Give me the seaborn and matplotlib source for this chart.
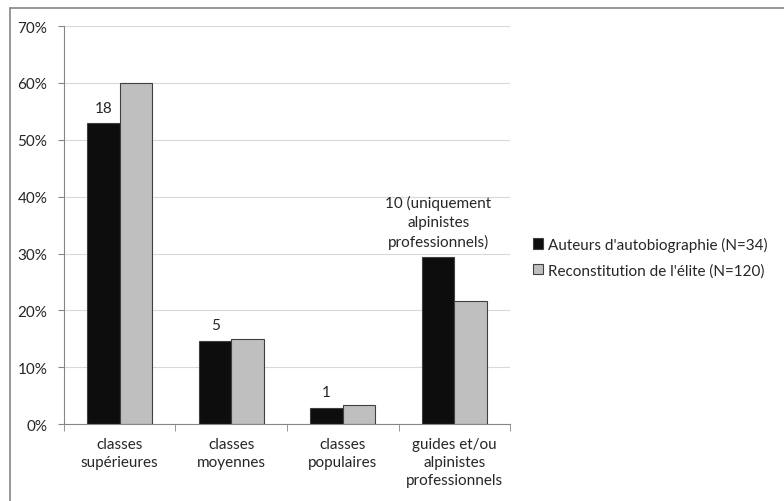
import pandas as pd
import seaborn as sns
import matplotlib.pyplot as plt
from matplotlib.lines import Line2D
from matplotlib.ticker import FuncFormatter, FixedLocator

# data
categories = ["classes\nsupérieures", "classes\nmoyennes", "classes\npopulaires",
              "guides et/ou\nalpinistes\nprofessionnels"]
series = ["Auteurs d'autobiographie (N=34)", "Reconstitution de l'élite (N=120)"]
auteurs = [52.9, 14.7, 2.9, 29.4]
elite = [60.0, 15.0, 3.3, 21.7]
counts = ["18", "5", "1", "10 (uniquement\nalpinistes\nprofessionnels)"]

df = pd.DataFrame({
    "categorie": categories * 2,
    "serie": [series[0]] * 4 + [series[1]] * 4,
    "pct": auteurs + elite,
})

sns.set_style("white")
plt.rcParams['font.family'] = ['Lato', 'DejaVu Sans']

fig = plt.figure(figsize=(7.84, 5.02), dpi=100)
ax = fig.add_axes([0.0816, 0.153, 0.569, 0.793])

sns.barplot(data=df, x="categorie", y="pct", hue="serie",
            palette=["#0d0d0d", "#bfbfbf"], width=0.58,
            edgecolor="#404040", linewidth=0.8, ax=ax)

ax.set_ylim(0, 70)
ax.set_xlim(-0.5, 3.5)
ax.yaxis.set_major_locator(FixedLocator(range(0, 71, 10)))
ax.yaxis.set_major_formatter(FuncFormatter(lambda v, p: f"{int(v)}%"))
ax.grid(axis="y", color="#d9d9d9", linewidth=0.8)
ax.set_axisbelow(True)
for s in ["top", "right"]:
    ax.spines[s].set_visible(False)
ax.spines["left"].set_color("#868686")
ax.spines["bottom"].set_color("#868686")
ax.set_xlabel("")
ax.set_ylabel("")
ax.tick_params(axis="y", length=4, color="#868686", labelsize=11, labelcolor="#262626",
               left=True, pad=8)
ax.tick_params(axis="x", length=0, labelsize=11, labelcolor="#262626", pad=9)
# category separator ticks
ax.set_xticks([-0.5, 0.5, 1.5, 2.5, 3.5], minor=True)
ax.tick_params(axis="x", which="minor", length=5, color="#868686", bottom=True)
for lab in ax.get_xticklabels():
    lab.set_verticalalignment("top")
    lab.set_multialignment("center")
    lab.set_linespacing(1.4)

# count labels above the black bars
for i, (txt, v) in enumerate(zip(counts, auteurs)):
    ax.annotate(txt, (i - 0.145, v), xytext=(0, 6), textcoords="offset points",
                ha="center", va="bottom", multialignment="center",
                fontsize=11, color="#262626", linespacing=1.4)

leg = ax.legend(loc="center left", bbox_to_anchor=(1.02, 0.42), frameon=False,
                fontsize=11, handlelength=0.7, handleheight=0.7, handletextpad=0.3,
                labelspacing=0.75)
for t in leg.get_texts():
    t.set_color("#262626")

# outer chart frame: only top and left edges are visible in the picture
fig.lines.append(Line2D([9.5 / 784, 1], [1 - 8.5 / 502] * 2, transform=fig.transFigure,
                        color="#868686", linewidth=1.2))
fig.lines.append(Line2D([9.5 / 784] * 2, [0, 1 - 8.5 / 502], transform=fig.transFigure,
                        color="#868686", linewidth=1.2))

fig.savefig("out.png", dpi=100)
